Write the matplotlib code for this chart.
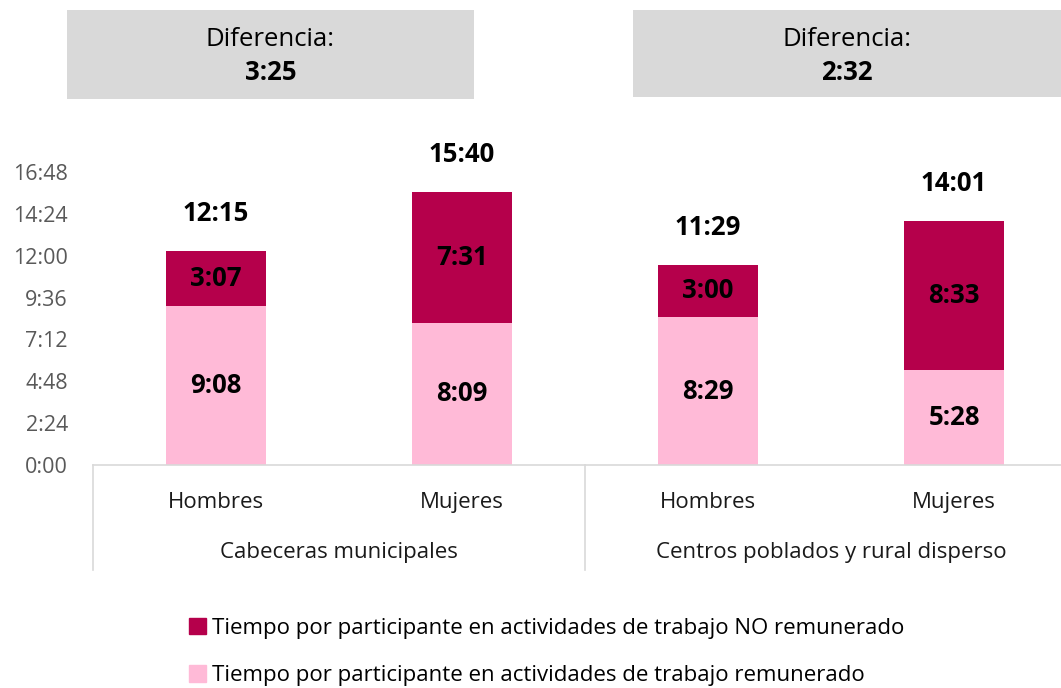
import matplotlib.pyplot as plt
from matplotlib.patches import Rectangle, Patch

plt.rcParams['font.family'] = ['Open Sans', 'DejaVu Sans']

# Data (h:mm)
sexo = ['Hombres', 'Mujeres', 'Hombres', 'Mujeres']
zonas = ['Cabeceras municipales', 'Centros poblados y rural disperso']
remunerado = ['9:08', '8:09', '8:29', '5:28']
no_remunerado = ['3:07', '7:31', '3:00', '8:33']
totales = ['12:15', '15:40', '11:29', '14:01']
diferencias = ['3:25', '2:32']
y_ticks = ['0:00', '2:24', '4:48', '7:12', '9:36', '12:00', '14:24', '16:48']
leyenda = ['Tiempo por participante en actividades de trabajo NO remunerado',
           'Tiempo por participante en actividades de trabajo remunerado']


def to_min(s):
    h, m = s.split(':')
    return int(h) * 60 + int(m)


rem = [to_min(v) for v in remunerado]
nrem = [to_min(v) for v in no_remunerado]
tot = [to_min(v) for v in totales]
yt = [to_min(v) for v in y_ticks]

c_dark = '#B5004B'
c_light = '#FFBAD7'

fig = plt.figure(figsize=(10.61, 6.88), dpi=100)
ax = fig.add_axes([93 / 1061, (688 - 465) / 688, 984 / 1061, 293 / 688])

x = list(range(len(sexo)))
ax.bar(x, rem, width=0.41, color=c_light)
ax.bar(x, nrem, width=0.41, bottom=rem, color=c_dark)

for i in x:
    ax.text(i, rem[i] / 2, remunerado[i], ha='center', va='center',
            fontsize=18.5, fontweight='bold', color='black')
    ax.text(i, rem[i] + nrem[i] / 2, no_remunerado[i], ha='center', va='center',
            fontsize=18.5, fontweight='bold', color='black')
    ax.annotate(totales[i], (i, tot[i]), xytext=(0, 27), textcoords='offset points',
                ha='center', va='center', fontsize=18.5, fontweight='bold')

ax.set_xlim(-0.5, 3.5)
ax.set_ylim(0, 1008)
ax.set_yticks(yt)
ax.set_yticklabels(y_ticks, fontsize=15.5, color='#595959')
ax.tick_params(axis='y', length=0, pad=18)
ax.set_xticks([])
for s in ['left', 'right', 'top']:
    ax.spines[s].set_visible(False)
ax.spines['bottom'].set_color('#D9D9D9')
ax.spines['bottom'].set_linewidth(1.2)

# multi-level category axis
trans = ax.get_xaxis_transform()
for xv in [-0.5, 1.5]:
    ax.plot([xv, xv], [0, -0.36], transform=trans, color='#D9D9D9', lw=1.2, clip_on=False)
for i in x:
    ax.text(i, -0.127, sexo[i], transform=trans, ha='center', va='center',
            fontsize=16, color='#1a1a1a')
for g, z in enumerate(zonas):
    ax.text(2 * g + 0.5, -0.30, z, transform=trans, ha='center', va='center',
            fontsize=16, color='#1a1a1a')

# difference boxes
boxes = [(67, 474, 99), (633, 1065, 97)]
for (x0, x1, yb), d in zip(boxes, diferencias):
    fig.patches.append(Rectangle((x0 / 1061, 1 - yb / 688), (x1 - x0) / 1061, (yb - 10) / 688,
                                 transform=fig.transFigure, facecolor='#D9D9D9',
                                 edgecolor='none'))
    cx = (x0 + min(x1, 1061)) / 2 / 1061
    fig.text(cx, 1 - 39 / 688, 'Diferencia:', ha='center', va='center', fontsize=18.5)
    fig.text(cx, 1 - 73 / 688, d, ha='center', va='center', fontsize=18.5, fontweight='bold')

handles = [Patch(color=c_dark), Patch(color=c_light)]
fig.legend(handles, leyenda, loc='center left', bbox_to_anchor=(169 / 1061, 1 - 652 / 688),
           frameon=False, fontsize=16, handlelength=0.75, handleheight=0.75,
           handletextpad=0.3, labelspacing=1.2)

fig.savefig('out.png', dpi=100)
